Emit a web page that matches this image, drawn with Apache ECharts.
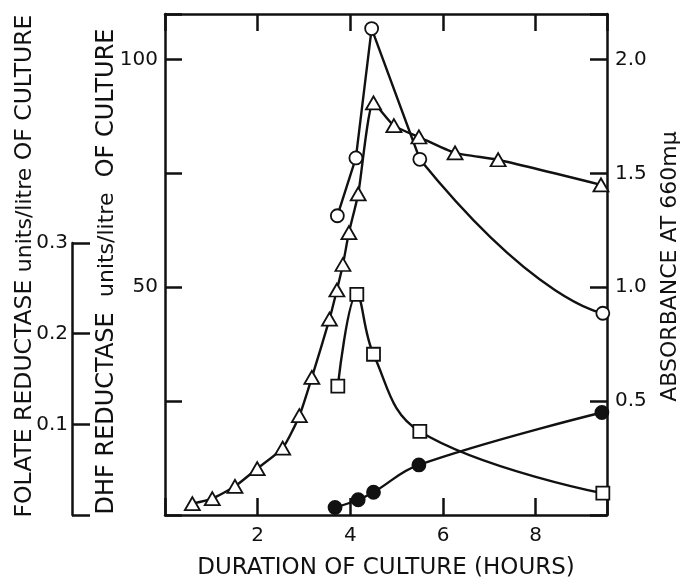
<!DOCTYPE html>
<html>
<head>
<meta charset="utf-8">
<script src="https://cdn.jsdelivr.net/npm/echarts@6/dist/echarts.min.js"></script>
<style>
html, body { margin: 0; padding: 0; background: #fff; }
#chart { width: 681px; height: 578px; }
</style>
</head>
<body>
<div id="chart"></div>
<script>
// tick labels
const hourTicks = [2, 4, 6, 8]
const dhfTicks = [50, 100]
const absTicks = [0.5, 1.0, 1.5, 2.0]
const folateTicks = [0.1, 0.2, 0.3]

// open triangles - absorbance at 660 mu
const triHours = [0.59, 1.02, 1.51, 1.99, 2.54, 2.90, 3.17, 3.55, 3.71, 3.84, 3.97, 4.17, 4.50, 4.94, 5.48, 6.26, 7.19, 9.41]
const triAbs = [0.05, 0.072, 0.126, 0.204, 0.294, 0.436, 0.604, 0.86, 0.988, 1.10, 1.24, 1.41, 1.81, 1.71, 1.66, 1.59, 1.56, 1.45]

// open circles - DHF reductase (units/litre)
const circHours = [3.72, 4.12, 4.46, 5.50, 9.45]
const circDhf = [65.7, 78.4, 106.8, 78.1, 44.3]

// open squares - folate reductase (units/litre)
const sqHours = [3.73, 4.14, 4.50, 5.50, 9.45]
const sqFolate = [0.142, 0.243, 0.177, 0.092, 0.024]

// filled circles - right scale
const dotHours = [3.67, 4.17, 4.50, 5.48, 9.43]
const dotAbs = [0.033, 0.067, 0.10, 0.22, 0.45]

const FONT = 'DejaVu Sans'
const INK = '#111'
const LINE_W = 2.4

const near = (list, v) => list.some(t => Math.abs(t - v) < 1e-6)
const pairs = (xs, ys) => xs.map((x, i) => [x, ys[i]])

const axisLine = { show: true, onZero: false, lineStyle: { color: INK, width: 2.5 } }
const axisTick = { show: true, inside: true, length: 17, lineStyle: { color: INK, width: 2.5 } }
const labelBase = { color: INK, fontSize: 20, fontFamily: FONT }
const openMark = { color: '#fff', borderColor: INK, borderWidth: 1.8 }

const mk = (name, data, yAxisIndex, symbol, size, filled, smooth) => ({
  name,
  type: 'line',
  xAxisIndex: 0,
  yAxisIndex,
  data,
  symbol,
  symbolSize: size,
  showAllSymbol: true,
  smooth,
  lineStyle: { color: INK, width: LINE_W },
  itemStyle: filled ? { color: INK, borderColor: INK, borderWidth: 1.8 } : openMark,
  z: 3
})

// circle curve: straight up to the peak and down to 5.5 h, then bends towards the last point
const circStraight = pairs(circHours, circDhf).slice(0, 4)
const circLast = pairs(circHours, circDhf).slice(4)

const circBend = {
  name: 'DHF bend',
  type: 'custom',
  xAxisIndex: 0,
  yAxisIndex: 0,
  z: 2,
  data: [circLast[0]],
  renderItem: (params, api) => {
    const p0 = api.coord([circHours[2], circDhf[2]])
    const p1 = api.coord([circHours[3], circDhf[3]])
    const p2 = api.coord([circHours[4], circDhf[4]])
    const d0 = Math.hypot(p1[0] - p0[0], p1[1] - p0[1])
    const d1 = Math.hypot(p2[0] - p1[0], p2[1] - p1[1])
    const k = 0.8 * d1 / (d0 + d1)
    return {
      type: 'bezierCurve',
      shape: {
        x1: p1[0], y1: p1[1], x2: p2[0], y2: p2[1],
        cpx1: p1[0] + (p2[0] - p0[0]) * k, cpy1: p1[1] + (p2[1] - p0[1]) * k,
        cpx2: p2[0], cpy2: p2[1]
      },
      style: { stroke: INK, lineWidth: LINE_W, fill: 'none' }
    }
  }
}

const option = {
  animation: false,
  backgroundColor: '#fff',
  grid: [
    { left: 165, right: 74, top: 14, bottom: 63, outerBoundsMode: 'none' },
    { left: 72, width: 20, top: 243, bottom: 63, outerBoundsMode: 'none' }
  ],
  xAxis: [
    {
      gridIndex: 0, type: 'value', position: 'bottom', min: 0, max: 9.54, interval: 2,
      axisLine, axisTick, splitLine: { show: false },
      axisLabel: { ...labelBase, margin: 11, formatter: v => near(hourTicks, v) ? String(v) : '' },
      name: 'DURATION OF CULTURE (HOURS)', nameLocation: 'middle', nameGap: 42, nameMoveOverlap: false,
      nameTextStyle: { color: INK, fontSize: 23, fontFamily: FONT }
    },
    {
      gridIndex: 0, type: 'value', position: 'top', min: 0, max: 9.54, interval: 2,
      axisLine, axisTick, splitLine: { show: false }, axisLabel: { show: false }
    },
    { gridIndex: 1, type: 'value', show: false, min: 0, max: 1 }
  ],
  yAxis: [
    {
      gridIndex: 0, type: 'value', position: 'left', min: 0, max: 110, interval: 25,
      axisLine, axisTick, splitLine: { show: false },
      axisLabel: { ...labelBase, margin: 7, formatter: v => near(dhfTicks, v) ? String(v) : '' },
      name: 'DHF REDUCTASE  {u|units/litre}  OF CULTURE', nameLocation: 'middle', nameRotate: 90, nameGap: 46, nameMoveOverlap: false,
      nameTextStyle: { color: INK, fontSize: 24, fontFamily: FONT, padding: [0, 14, 0, 0], rich: { u: { color: INK, fontSize: 22, fontFamily: FONT } } }
    },
    {
      gridIndex: 0, type: 'value', position: 'right', min: 0, max: 2.2, interval: 0.5,
      axisLine, axisTick, splitLine: { show: false },
      axisLabel: { ...labelBase, margin: 8, formatter: v => near(absTicks, v) ? v.toFixed(1) : '' },
      name: 'ABSORBANCE AT 660mμ', nameLocation: 'middle', nameRotate: 90, nameGap: 52, nameMoveOverlap: false,
      nameTextStyle: { color: INK, fontSize: 22, fontFamily: FONT, padding: [0, 4, 0, 0] }
    },
    // hidden folate scale sharing the main plot, lined up with the small axis on the left
    { gridIndex: 0, type: 'value', show: false, min: 0, max: 0.5517 },
    {
      gridIndex: 1, type: 'value', position: 'left', min: 0, max: 0.3, interval: 0.1,
      axisLine, axisTick: { ...axisTick, length: 18 }, splitLine: { show: false },
      axisLabel: { ...labelBase, margin: 4, formatter: v => near(folateTicks, v) ? v.toFixed(1) : '' }
    }
  ],
  graphic: [
    {
      type: 'text', x: 25, y: 266, rotation: Math.PI / 2,
      style: {
        text: 'FOLATE REDUCTASE {u|units/litre} OF CULTURE',
        fill: INK, fontSize: 23.5, fontFamily: FONT, align: 'center', verticalAlign: 'middle',
        rich: { u: { fill: INK, fontSize: 22, fontFamily: FONT } }
      }
    }
  ],
  series: [
    mk('Absorbance', pairs(triHours, triAbs), 1, 'triangle', [15, 13], false, 0.2),
    mk('DHF reductase', circStraight, 0, 'circle', 13, false, false),
    circBend,
    mk('DHF reductase end', circLast, 0, 'circle', 13, false, false),
    mk('Folate reductase', pairs(sqHours, sqFolate), 2, 'rect', 13, false, 0.4),
    mk('Filled', pairs(dotHours, dotAbs), 1, 'circle', 13, true, 0.4)
  ]
}

const chart = echarts.init(document.getElementById('chart'), null, { renderer: 'canvas' })
chart.setOption(option)
</script>
</body>
</html>
